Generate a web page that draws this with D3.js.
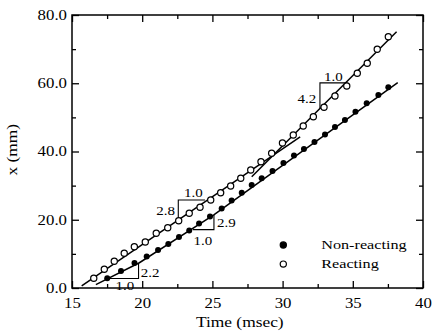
<!DOCTYPE html>
<html>
<head>
<meta charset="utf-8">
<script src="https://cdn.jsdelivr.net/npm/d3@7"></script>
<style>
  html, body { margin: 0; padding: 0; background: #fff; }
  svg { display: block; }
  svg text { font-family: "Liberation Serif", serif; fill: #000; }
</style>
</head>
<body>
<div id="chart"></div>
<script>
// Displacement vs time, non-reacting and reacting
const nonReactT = [17.51, 18.49, 19.45, 20.32, 21.13, 21.86, 22.62, 23.35, 24.05, 24.83,
    25.66, 26.37, 27.09, 27.80, 28.51, 29.28, 30.06, 30.81, 31.52, 32.27,
    33.02, 33.73, 34.44, 35.19, 35.99, 36.82, 37.53];
const nonReactX = [2.84, 4.98, 7.33, 9.23, 11.14, 12.89, 14.95, 16.85, 18.90, 20.95,
    23.30, 25.64, 27.93, 30.18, 32.15, 34.29, 36.63, 38.83, 40.73, 42.78,
    44.98, 47.18, 49.23, 51.66, 54.12, 56.56, 58.81];

const reactT = [16.55, 17.30, 18.01, 18.72, 19.44, 20.22, 21.00, 21.82, 22.60, 23.35,
    24.12, 24.88, 25.59, 26.30, 27.02, 27.73, 28.46, 29.22, 29.99, 30.76,
    31.47, 32.19, 32.95, 33.73, 34.57, 35.32, 36.03, 36.74, 37.53];
const reactX = [2.84, 5.48, 7.82, 10.17, 12.10, 13.48, 16.03, 17.67, 19.72, 21.89,
    23.65, 25.79, 27.93, 29.89, 32.15, 34.58, 37.01, 39.47, 42.49, 44.84,
    47.47, 50.20, 52.95, 56.26, 59.19, 62.92, 65.85, 69.95, 73.64];

// fitted lines [t, x]
const nonReactFit = [[16.7, 1.0], [19.8, 7.4], [25.1, 21.4], [38.2, 60.2]];
const reactFit1 = [[15.69, 0.6], [31.25, 44.3]];
const reactFit2 = [[27.8, 32.6], [38.12, 75.1]];

// slope triangles: path in data units + labels
const triangles = [
    { path: [[17.64, 2.78], [19.74, 2.78], [19.74, 7.2]],
      labels: [{ t: 19.9, x: 4.5, s: "2.2", anchor: "start" }, { t: 18.77, x: 0.7, s: "1.0", anchor: "middle" }] },
    { path: [[23.62, 17.1], [25.11, 17.1], [25.11, 21.4]],
      labels: [{ t: 25.33, x: 19.3, s: "2.9", anchor: "start" }, { t: 24.33, x: 14.0, s: "1.0", anchor: "middle" }] },
    { path: [[22.57, 19.6], [22.57, 25.8], [24.47, 25.8]],
      labels: [{ t: 22.34, x: 22.6, s: "2.8", anchor: "end" }, { t: 23.64, x: 28.0, s: "1.0", anchor: "middle" }] },
    { path: [[32.66, 52.6], [32.66, 60.1], [34.62, 60.1]],
      labels: [{ t: 32.4, x: 55.6, s: "4.2", anchor: "end" }, { t: 33.61, x: 61.9, s: "1.0", anchor: "middle" }] }
];

const xMajor = [15, 20, 25, 30, 35, 40];
const xMinor = [17.5, 22.5, 27.5, 32.5, 37.5];
const yMajor = [0, 20, 40, 60, 80];
const yMinor = [10, 30, 50, 70];

const width = 433, height = 336;
const margin = { top: 15, right: 10, bottom: 48, left: 72 };
const SX = 1.2; // the scanned lettering is wide

const svg = d3.select("#chart").append("svg")
    .attr("width", width)
    .attr("height", height)
    .attr("font-family", "Liberation Serif, serif");

const x = d3.scaleLinear().domain([15, 40]).range([margin.left, width - margin.right]);
const y = d3.scaleLinear().domain([0, 80]).range([height - margin.bottom, margin.top]);

// widen text horizontally while keeping its anchor point
function stretch(sel) {
    sel.each(function() {
        const t = d3.select(this);
        const tx = +t.attr("x") || 0;
        t.attr("x", tx / SX).attr("transform", `scale(${SX},1)`);
    });
}

// axes, ticks pointing inward
function addAxis(axisFn, scale, values, size, transform, fmt, pad) {
    const g = svg.append("g")
        .attr("transform", transform)
        .call(axisFn(scale).tickValues(values).tickSize(size).tickSizeOuter(0)
            .tickPadding(pad || 0).tickFormat(fmt || ""));
    g.attr("font-family", null).attr("font-size", null);
    g.select(".domain").remove();
    g.selectAll("line").attr("stroke", "#000").attr("stroke-width", 1.3);
    return g;
}
const bottomY = height - margin.bottom, rightX = width - margin.right;

const gx = addAxis(d3.axisBottom, x, xMajor, -7, `translate(0,${bottomY})`, d3.format("d"), 10);
addAxis(d3.axisBottom, x, xMinor, -4, `translate(0,${bottomY})`);
addAxis(d3.axisTop, x, xMajor, -7, `translate(0,${margin.top})`);
addAxis(d3.axisTop, x, xMinor, -4, `translate(0,${margin.top})`);
const gy = addAxis(d3.axisLeft, y, yMajor, -7, `translate(${margin.left},0)`, d3.format(".1f"), 5);
addAxis(d3.axisLeft, y, yMinor, -4, `translate(${margin.left},0)`);
addAxis(d3.axisRight, y, yMajor, -7, `translate(${rightX},0)`);
addAxis(d3.axisRight, y, yMinor, -4, `translate(${rightX},0)`);

gx.selectAll("text").attr("font-size", 14).call(stretch);
gy.selectAll("text").attr("font-size", 14).call(stretch);

svg.append("rect")
    .attr("x", margin.left).attr("y", margin.top)
    .attr("width", rightX - margin.left).attr("height", bottomY - margin.top)
    .attr("fill", "none").attr("stroke", "#000").attr("stroke-width", 1.5);

// axis titles
svg.append("text")
    .attr("transform", `translate(${x(26.95)},${height - 9}) scale(${SX},1)`)
    .attr("text-anchor", "middle")
    .attr("font-size", 14.5)
    .text("Time (msec)");

svg.append("text")
    .attr("transform", `translate(17,${y(40.5)}) rotate(-90) scale(${SX},1)`)
    .attr("text-anchor", "middle")
    .attr("font-size", 14.5)
    .text("x (mm)");

// fit lines
const line = d3.line().x((d) => x(d[0])).y((d) => y(d[1]));
[nonReactFit, reactFit1, reactFit2].forEach((pts) => {
    svg.append("path")
        .attr("d", line(pts))
        .attr("fill", "none")
        .attr("stroke", "#000")
        .attr("stroke-width", 1.5);
});

// slope triangles
triangles.forEach((tri) => {
    svg.append("path")
        .attr("d", line(tri.path))
        .attr("fill", "none")
        .attr("stroke", "#000")
        .attr("stroke-width", 1.1);
    tri.labels.forEach((l) => {
        svg.append("text")
            .attr("x", x(l.t))
            .attr("y", y(l.x))
            .attr("dy", "0.35em")
            .attr("text-anchor", l.anchor)
            .attr("font-size", 12.5)
            .text(l.s)
            .call(stretch);
    });
});

// data points
svg.append("g").selectAll("circle")
    .data(nonReactT.map((t, i) => [t, nonReactX[i]]))
    .join("circle")
    .attr("cx", (d) => x(d[0]))
    .attr("cy", (d) => y(d[1]))
    .attr("r", 3)
    .attr("fill", "#000");

svg.append("g").selectAll("circle")
    .data(reactT.map((t, i) => [t, reactX[i]]))
    .join("circle")
    .attr("cx", (d) => x(d[0]))
    .attr("cy", (d) => y(d[1]))
    .attr("r", 3.1)
    .attr("fill", "#fff")
    .attr("stroke", "#000")
    .attr("stroke-width", 1.2);

// legend
const legend = [
    { label: "Non-reacting", filled: true, x: 12.6 },
    { label: "Reacting", filled: false, x: 7.0 }
];
legend.forEach((d) => {
    svg.append("circle")
        .attr("cx", x(30.05))
        .attr("cy", y(d.x))
        .attr("r", 3.1)
        .attr("fill", d.filled ? "#000" : "#fff")
        .attr("stroke", "#000")
        .attr("stroke-width", 1.2);
    svg.append("text")
        .attr("x", x(32.75))
        .attr("y", y(d.x))
        .attr("dy", "0.32em")
        .attr("font-size", 13.5)
        .text(d.label)
        .call(stretch);
});
</script>
</body>
</html>
